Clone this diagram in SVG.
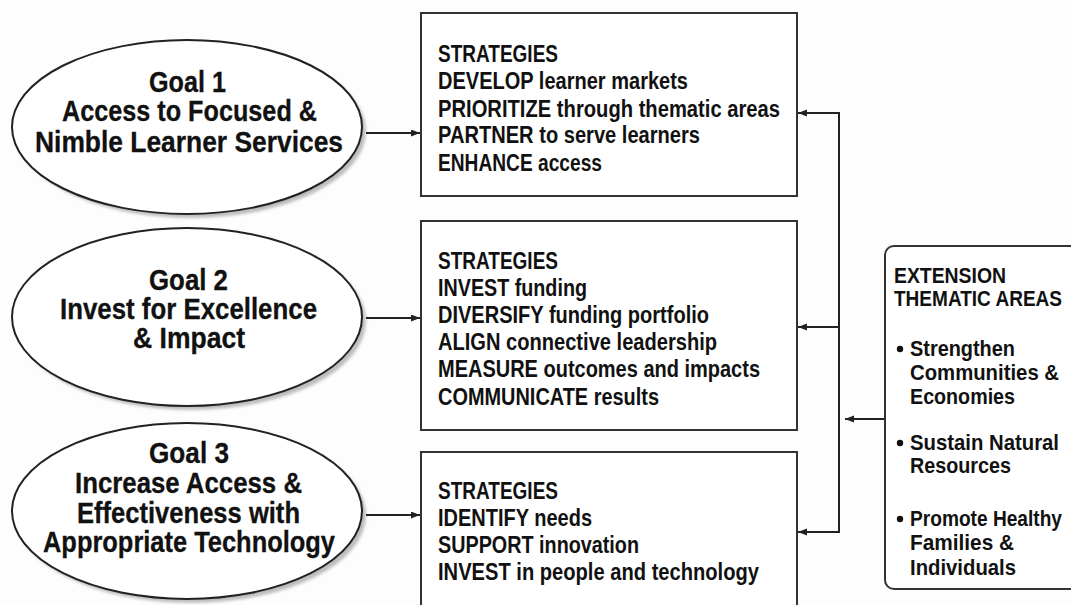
<svg xmlns="http://www.w3.org/2000/svg" width="1071" height="605" viewBox="0 0 1071 605">
<style>
text{font-family:"Liberation Sans",Arial,sans-serif;font-weight:bold;fill:#111}
.g{font-size:29px;stroke:#111;stroke-width:0.3}
.s{font-size:23px}
.t{font-size:22px}
.ell{fill:#fff;stroke:#222;stroke-width:2}
.sh{fill:#bdbdbd;filter:url(#blur)}
.box{fill:#fff;stroke:#333;stroke-width:2}
.con{fill:none;stroke:#222;stroke-width:2}
</style>
<defs>
<filter id="blur" x="-10%" y="-10%" width="120%" height="120%"><feGaussianBlur stdDeviation="1.5"/></filter>
<marker id="ah" markerUnits="userSpaceOnUse" markerWidth="10" markerHeight="8" refX="9" refY="3.5" orient="auto"><path d="M0,0 L9,3.5 L0,7 z" fill="#222"/></marker>
</defs>
<rect width="1071" height="605" fill="#fdfdfd"/>
<g id="goal1">
<ellipse class="sh" cx="191" cy="131" rx="175" ry="87"/>
<ellipse class="ell" cx="187" cy="127" rx="175" ry="87"/>
<text class="g" x="149" y="92" textLength="77" lengthAdjust="spacingAndGlyphs">Goal 1</text>
<text class="g" x="62" y="121" textLength="255" lengthAdjust="spacingAndGlyphs">Access to Focused &amp;</text>
<text class="g" x="35" y="152" textLength="308" lengthAdjust="spacingAndGlyphs">Nimble Learner Services</text>
</g>
<g id="goal2">
<ellipse class="sh" cx="191" cy="321" rx="175" ry="89"/>
<ellipse class="ell" cx="187" cy="317" rx="175" ry="89"/>
<text class="g" x="149" y="290" textLength="79" lengthAdjust="spacingAndGlyphs">Goal 2</text>
<text class="g" x="60" y="319" textLength="257" lengthAdjust="spacingAndGlyphs">Invest for Excellence</text>
<text class="g" x="133" y="348" textLength="112" lengthAdjust="spacingAndGlyphs">&amp; Impact</text>
</g>
<g id="goal3">
<ellipse class="sh" cx="191" cy="515" rx="175" ry="88"/>
<ellipse class="ell" cx="187" cy="511" rx="175" ry="88"/>
<text class="g" x="149" y="463" textLength="80" lengthAdjust="spacingAndGlyphs">Goal 3</text>
<text class="g" x="75" y="493" textLength="227" lengthAdjust="spacingAndGlyphs">Increase Access &amp;</text>
<text class="g" x="77" y="523" textLength="223" lengthAdjust="spacingAndGlyphs">Effectiveness with</text>
<text class="g" x="43" y="552" textLength="292" lengthAdjust="spacingAndGlyphs">Appropriate Technology</text>
</g>
<g id="strategies1">
<rect class="box" x="421" y="13" width="376" height="183"/>
<text class="s" x="438" y="62" textLength="120" lengthAdjust="spacingAndGlyphs">STRATEGIES</text>
<text class="s" x="438" y="89" textLength="250" lengthAdjust="spacingAndGlyphs">DEVELOP learner markets</text>
<text class="s" x="438" y="117" textLength="342" lengthAdjust="spacingAndGlyphs">PRIORITIZE through thematic areas</text>
<text class="s" x="438" y="143" textLength="262" lengthAdjust="spacingAndGlyphs">PARTNER to serve learners</text>
<text class="s" x="438" y="171" textLength="164" lengthAdjust="spacingAndGlyphs">ENHANCE access</text>
</g>
<g id="strategies2">
<rect class="box" x="421" y="221" width="376" height="209"/>
<text class="s" x="438" y="269" textLength="120" lengthAdjust="spacingAndGlyphs">STRATEGIES</text>
<text class="s" x="438" y="296" textLength="149" lengthAdjust="spacingAndGlyphs">INVEST funding</text>
<text class="s" x="438" y="323" textLength="271" lengthAdjust="spacingAndGlyphs">DIVERSIFY funding portfolio</text>
<text class="s" x="438" y="350" textLength="279" lengthAdjust="spacingAndGlyphs">ALIGN connective leadership</text>
<text class="s" x="438" y="377" textLength="322" lengthAdjust="spacingAndGlyphs">MEASURE outcomes and impacts</text>
<text class="s" x="438" y="405" textLength="221" lengthAdjust="spacingAndGlyphs">COMMUNICATE results</text>
</g>
<g id="strategies3">
<rect class="box" x="421" y="452" width="376" height="170"/>
<text class="s" x="438" y="499" textLength="120" lengthAdjust="spacingAndGlyphs">STRATEGIES</text>
<text class="s" x="438" y="526" textLength="154" lengthAdjust="spacingAndGlyphs">IDENTIFY needs</text>
<text class="s" x="438" y="553" textLength="201" lengthAdjust="spacingAndGlyphs">SUPPORT innovation</text>
<text class="s" x="438" y="580" textLength="321" lengthAdjust="spacingAndGlyphs">INVEST in people and technology</text>
</g>
<g id="thematic">
<rect class="box" x="885" y="246" width="220" height="343" rx="9"/>
<text class="t" x="894" y="283" textLength="112" lengthAdjust="spacingAndGlyphs">EXTENSION</text>
<text class="t" x="894" y="306" textLength="168" lengthAdjust="spacingAndGlyphs">THEMATIC AREAS</text>
<circle cx="900" cy="349" r="3.2" fill="#111"/>
<text class="t" x="910" y="356" textLength="105" lengthAdjust="spacingAndGlyphs">Strengthen</text>
<text class="t" x="910" y="380" textLength="149" lengthAdjust="spacingAndGlyphs">Communities &amp;</text>
<text class="t" x="910" y="404" textLength="105" lengthAdjust="spacingAndGlyphs">Economies</text>
<circle cx="900" cy="443" r="3.2" fill="#111"/>
<text class="t" x="910" y="450" textLength="149" lengthAdjust="spacingAndGlyphs">Sustain Natural</text>
<text class="t" x="910" y="473" textLength="101" lengthAdjust="spacingAndGlyphs">Resources</text>
<circle cx="900" cy="519" r="3.2" fill="#111"/>
<text class="t" x="910" y="526" textLength="152" lengthAdjust="spacingAndGlyphs">Promote Healthy</text>
<text class="t" x="910" y="550" textLength="104" lengthAdjust="spacingAndGlyphs">Families &amp;</text>
<text class="t" x="910" y="575" textLength="106" lengthAdjust="spacingAndGlyphs">Individuals</text>
</g>
<g id="connectors" class="con">
<path d="M366,133 H420" marker-end="url(#ah)"/>
<path d="M366,318 H420" marker-end="url(#ah)"/>
<path d="M366,515 H420" marker-end="url(#ah)"/>
<path d="M839,112 V533"/>
<path d="M839,113 H798" marker-end="url(#ah)"/>
<path d="M839,327 H798" marker-end="url(#ah)"/>
<path d="M839,532 H798" marker-end="url(#ah)"/>
<path d="M884,419 H845" marker-end="url(#ah)"/>
</g>
</svg>
